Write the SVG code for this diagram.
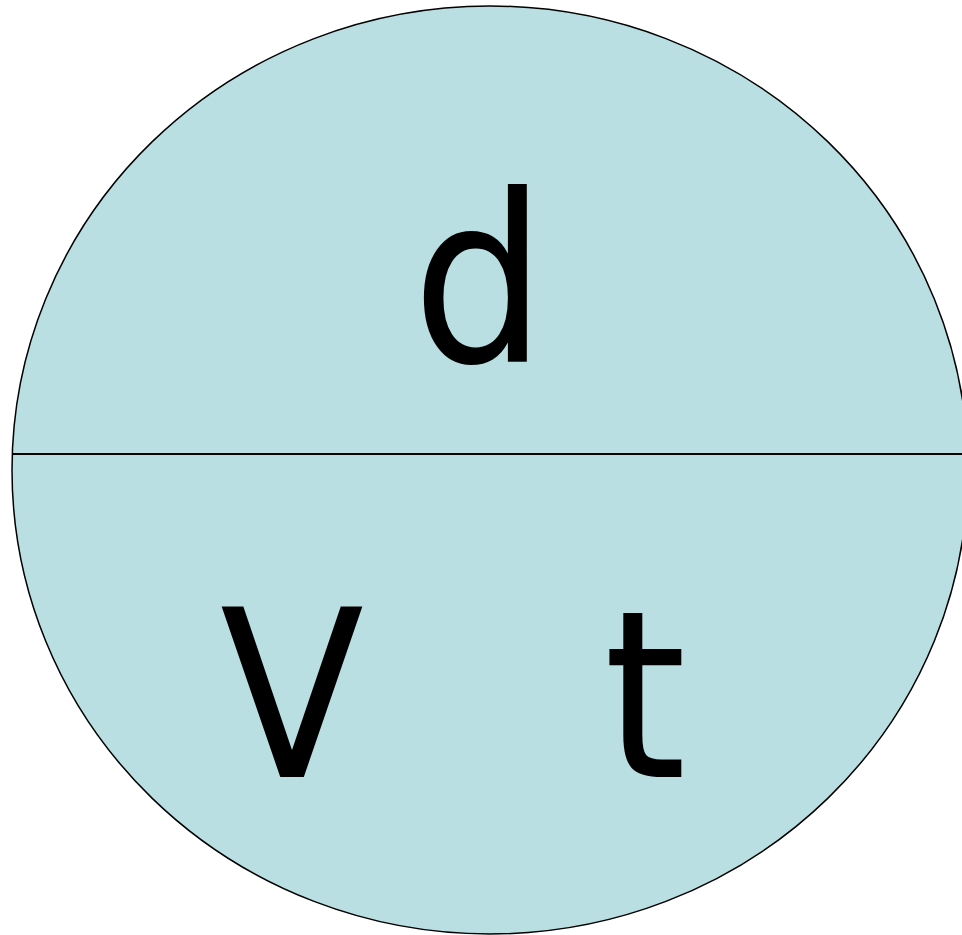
<svg xmlns="http://www.w3.org/2000/svg" width="962" height="935" viewBox="0 0 962 935">
<style>
.lbl{font-family:"DejaVu Sans",Verdana,sans-serif;font-size:234px;fill:#000;text-anchor:middle}
</style>
<rect width="962" height="935" fill="#fff"/>
<g id="triangle">
<ellipse cx="490" cy="470" rx="478" ry="464" fill="#B9DFE3" stroke="#000" stroke-width="1.5"/>
<line x1="12" y1="454" x2="962" y2="454" stroke="#000" stroke-width="2"/>
</g>
<g id="label-d"><text class="lbl" transform="translate(479,362) scale(0.9,1)">d</text></g>
<g id="label-V"><text class="lbl" transform="translate(292,777) scale(0.9,1)">V</text></g>
<g id="label-t"><text class="lbl" transform="translate(645,777) scale(0.9,1)">t</text></g>
</svg>
